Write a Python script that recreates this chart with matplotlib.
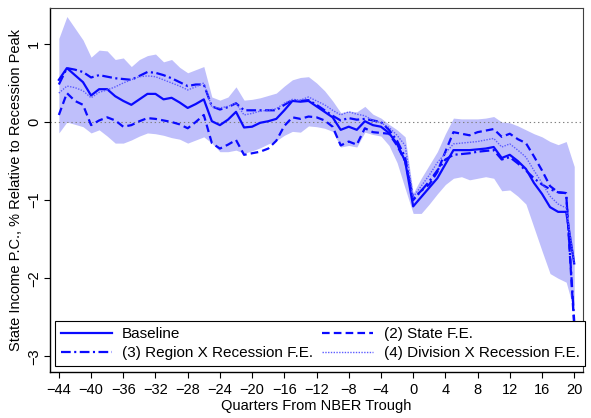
import numpy as np
import matplotlib
matplotlib.use("Agg")
import matplotlib.pyplot as plt

plt.rcParams['font.family'] = ['Liberation Sans', 'DejaVu Sans']
plt.rcParams['lines.scale_dashes'] = False

quarters = np.arange(-44, 21)

baseline = [0.54, 0.69, 0.60, 0.51, 0.34, 0.42, 0.42, 0.33, 0.27, 0.22,
            0.29, 0.36, 0.36, 0.29, 0.31, 0.25, 0.18, 0.23, 0.29, 0.01,
            -0.04, 0.03, 0.13, -0.07, -0.06, -0.01, 0.01, 0.04, 0.15, 0.27,
            0.26, 0.27, 0.20, 0.13, 0.06, -0.10, -0.06, -0.10, 0.01, -0.04,
            -0.06, -0.14, -0.28, -0.50, -1.08, -0.96, -0.84, -0.72, -0.54, -0.36,
            -0.36, -0.36, -0.35, -0.34, -0.32, -0.46, -0.42, -0.50, -0.60, -0.78,
            -0.92, -1.09, -1.15, -1.15, -1.81]

state_fe = [0.09, 0.37, 0.27, 0.22, -0.04, 0.02, 0.06, 0.02, -0.06, -0.04,
            0.01, 0.05, 0.04, 0.02, 0.00, -0.03, -0.08, 0.00, 0.09, -0.27,
            -0.34, -0.29, -0.23, -0.42, -0.40, -0.38, -0.34, -0.24, -0.05, 0.06,
            0.04, 0.07, 0.06, 0.02, -0.06, -0.30, -0.25, -0.29, -0.08, -0.13,
            -0.14, -0.15, -0.30, -0.50, -0.98, -0.88, -0.80, -0.64, -0.38, -0.13,
            -0.15, -0.17, -0.13, -0.11, -0.09, -0.19, -0.15, -0.22, -0.27, -0.44,
            -0.62, -0.82, -0.90, -0.91, -2.62]

region_fe = [0.48, 0.69, 0.67, 0.64, 0.57, 0.60, 0.58, 0.56, 0.55, 0.54,
             0.59, 0.64, 0.63, 0.60, 0.56, 0.51, 0.46, 0.48, 0.48, 0.20,
             0.16, 0.19, 0.24, 0.15, 0.15, 0.15, 0.15, 0.15, 0.22, 0.28,
             0.27, 0.28, 0.22, 0.15, 0.08, 0.02, 0.05, 0.03, 0.04, 0.02,
             0.00, -0.10, -0.24, -0.45, -1.00, -0.88, -0.76, -0.62, -0.48, -0.42,
             -0.41, -0.40, -0.38, -0.37, -0.36, -0.48, -0.45, -0.53, -0.62, -0.72,
             -0.80, -0.86, -0.90, -0.91, -2.55]

division_fe = [0.37, 0.46, 0.44, 0.40, 0.31, 0.38, 0.41, 0.45, 0.50, 0.54,
               0.58, 0.59, 0.58, 0.54, 0.50, 0.46, 0.41, 0.45, 0.50, 0.19,
               0.18, 0.20, 0.24, 0.09, 0.11, 0.14, 0.15, 0.17, 0.24, 0.29,
               0.28, 0.32, 0.27, 0.22, 0.15, 0.09, 0.13, 0.10, 0.08, 0.02,
               -0.01, -0.07, -0.17, -0.30, -0.96, -0.82, -0.68, -0.52, -0.40, -0.28,
               -0.27, -0.26, -0.25, -0.23, -0.21, -0.32, -0.28, -0.36, -0.45, -0.62,
               -0.78, -0.95, -1.05, -1.10, -1.80]

ci_upper = [1.07, 1.35, 1.20, 1.05, 0.83, 0.92, 0.91, 0.80, 0.82, 0.71,
            0.80, 0.85, 0.87, 0.77, 0.80, 0.70, 0.63, 0.67, 0.71, 0.32,
            0.28, 0.32, 0.45, 0.28, 0.29, 0.31, 0.34, 0.37, 0.46, 0.54,
            0.57, 0.58, 0.50, 0.40, 0.27, 0.12, 0.14, 0.13, 0.20, 0.10,
            0.05, -0.03, -0.10, -0.19, -0.91, -0.72, -0.55, -0.38, -0.15, 0.05,
            0.04, 0.04, 0.04, 0.05, 0.07, 0.00, -0.01, -0.05, -0.10, -0.15,
            -0.19, -0.25, -0.29, -0.25, -0.57]

ci_lower = [-0.14, 0.00, -0.03, -0.06, -0.14, -0.10, -0.18, -0.27, -0.27, -0.23,
            -0.18, -0.14, -0.15, -0.17, -0.20, -0.22, -0.27, -0.23, -0.19, -0.27,
            -0.38, -0.38, -0.36, -0.40, -0.37, -0.33, -0.28, -0.24, -0.17, -0.12,
            -0.13, -0.05, -0.06, -0.08, -0.12, -0.32, -0.30, -0.32, -0.13, -0.16,
            -0.18, -0.30, -0.52, -0.85, -1.17, -1.17, -1.05, -0.92, -0.80, -0.72,
            -0.70, -0.74, -0.72, -0.70, -0.72, -0.88, -0.87, -0.95, -1.05, -1.35,
            -1.65, -1.94, -2.00, -2.05, -2.42]

blue = '#0a0aff'

fig = plt.figure(figsize=(5.91, 4.18), dpi=100)
ax = fig.add_axes([0.0846, 0.110, 0.902, 0.871])

ax.fill_between(quarters, ci_lower, ci_upper, color='#bfbffb', lw=0)
ax.axhline(0, color='#808080', lw=0.8, ls=(0, (1, 2)))

l1, = ax.plot(quarters, baseline, color=blue, lw=1.6, label='Baseline')
l2, = ax.plot(quarters, state_fe, color=blue, lw=1.6, ls=(0, (5.5, 3)),
              label='(2) State F.E.')
l3, = ax.plot(quarters, region_fe, color=blue, lw=1.6, ls=(0, (7, 2.5, 1.5, 2.5)),
              label='(3) Region X Recession F.E.')
l4, = ax.plot(quarters, division_fe, color='#5c5cff', lw=1.0, ls=(0, (1, 1)),
              label='(4) Division X Recession F.E.')

ax.set_xlim(-45.1, 21.1)
ax.set_ylim(-3.2, 1.46)
ax.set_xticks(np.arange(-44, 21, 4))
ax.set_yticks([-3, -2, -1, 0, 1])
ax.tick_params(axis='both', direction='out', length=4.5, width=0.8, labelsize=10.5)
ax.tick_params(axis='y', pad=2)
for lab in ax.get_yticklabels():
    lab.set_rotation(90)
    lab.set_va('center')

for s in ['left', 'bottom']:
    ax.spines[s].set_linewidth(1.0)
for s in ['top', 'right']:
    ax.spines[s].set_linewidth(0.8)
    ax.spines[s].set_color('#404040')

ax.set_xlabel('Quarters From NBER Trough', fontsize=10.5, labelpad=1)
ax.set_ylabel('State Income P.C., % Relative to Recession Peak', fontsize=10.5, labelpad=3)

leg = ax.legend(handles=[l1, l3, l2, l4], ncol=2,
                bbox_to_anchor=(0.0094, 0.0165), loc='lower left',
                fontsize=11, frameon=True, fancybox=False, edgecolor='black',
                framealpha=1, borderaxespad=0, handlelength=3.3, handletextpad=0.7,
                columnspacing=0.6, labelspacing=0.3, borderpad=0.4)
leg.get_frame().set_linewidth(0.8)

fig.savefig('out.png', dpi=100)
